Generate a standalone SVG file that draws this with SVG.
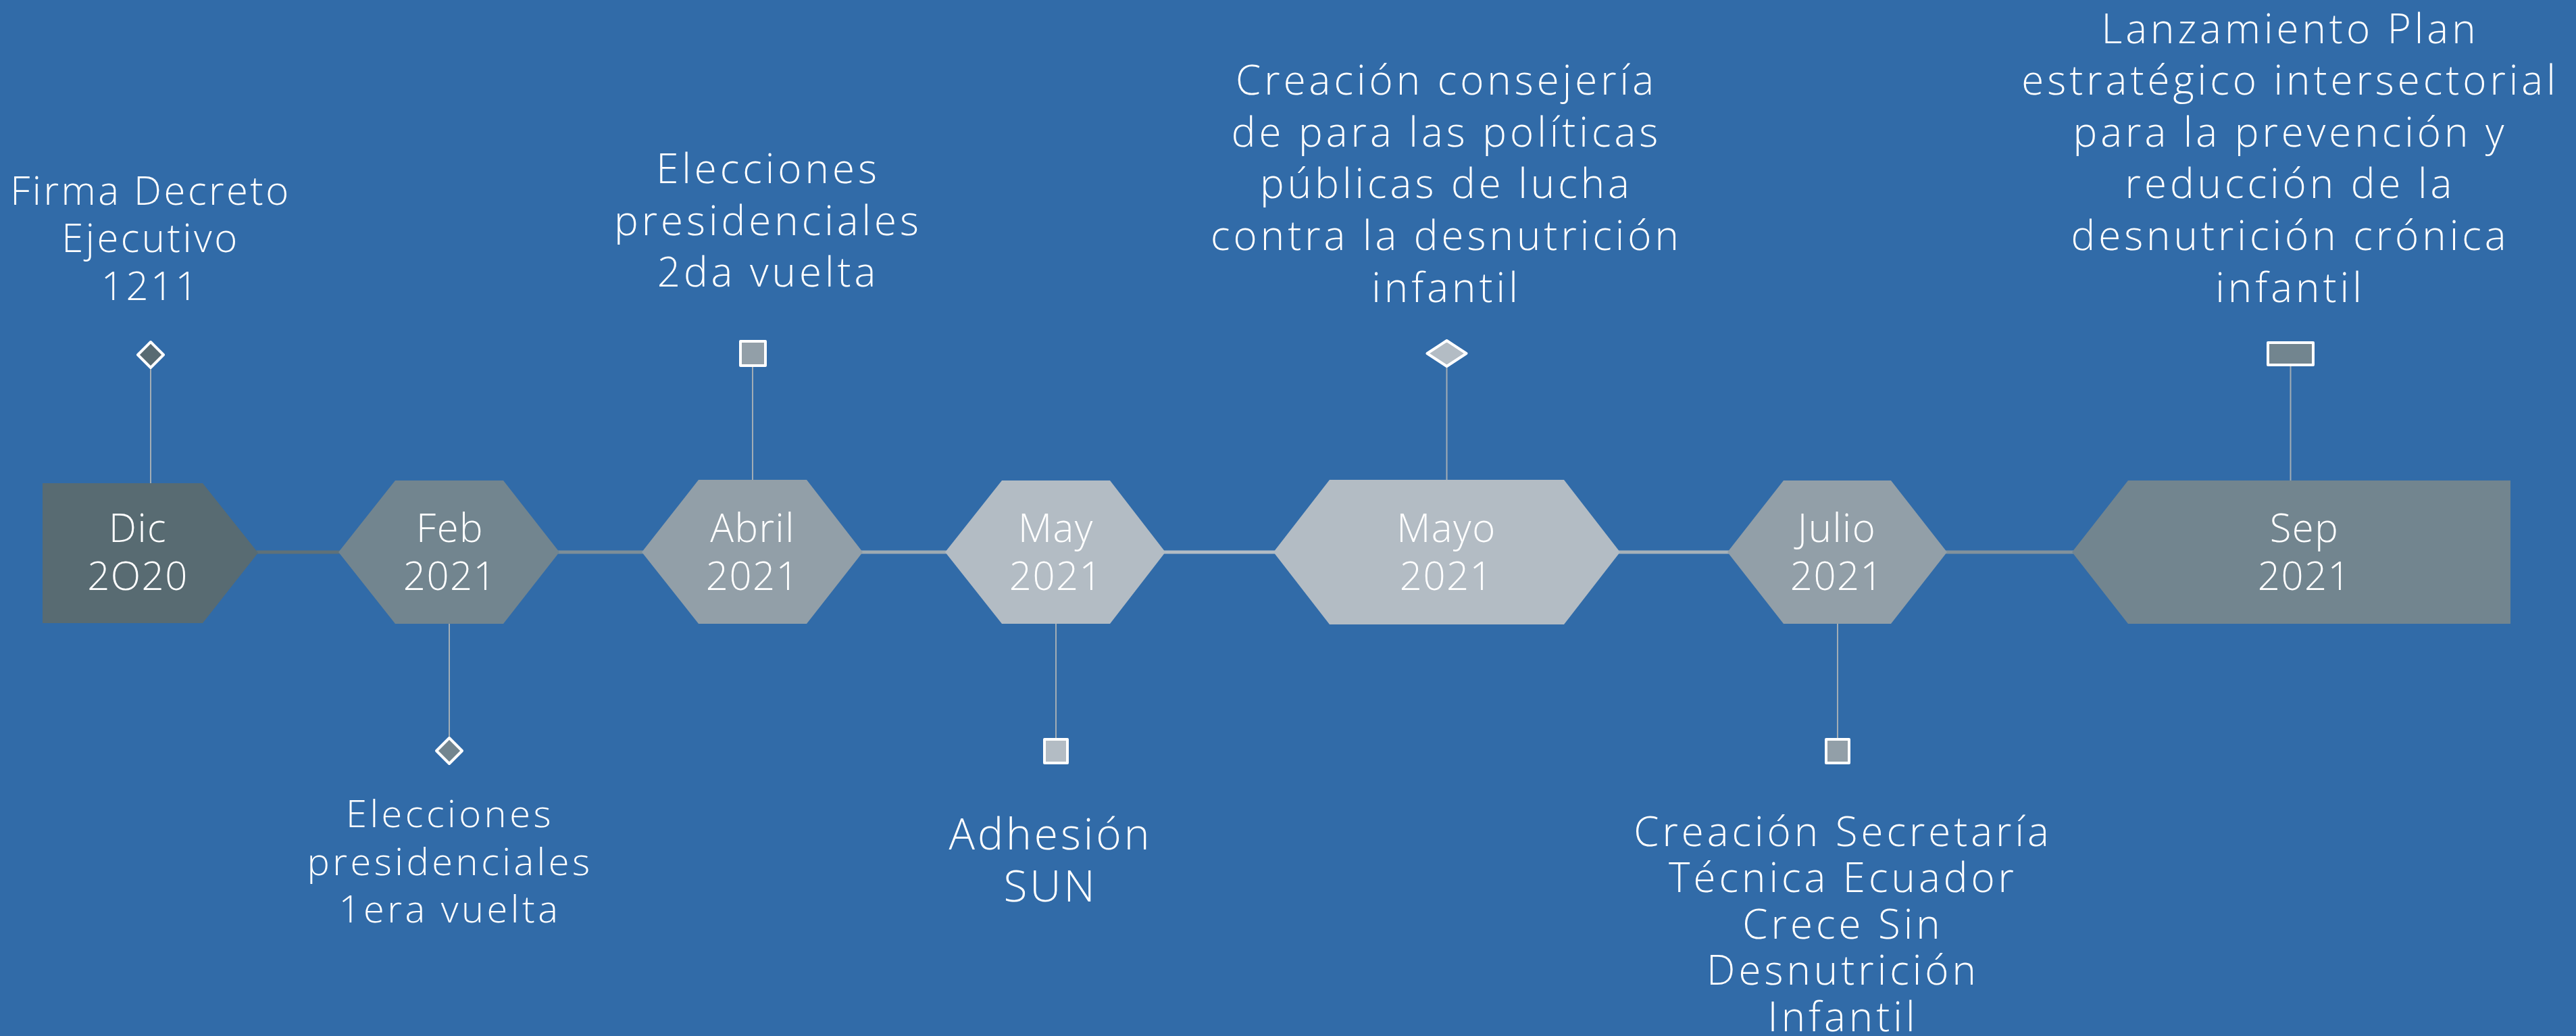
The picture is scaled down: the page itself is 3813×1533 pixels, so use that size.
<svg xmlns="http://www.w3.org/2000/svg" width="3813" height="1533" viewBox="0 0 3813 1533">
<style>
.bg{fill:#316ba8}
.lbl{font-family:"Open Sans","Liberation Sans",sans-serif;font-weight:300;fill:#ffffff;text-anchor:middle}
.node{font-size:58px;letter-spacing:1.5px}
.ev{font-size:60px;letter-spacing:5px}
.c1{fill:#586b72}.c2{fill:#72858f}.c3{fill:#929fa8}.c4{fill:#b3bcc4}
.mk{stroke:#ffffff;stroke-width:4;stroke-linejoin:round}
.stem{stroke:#a2adb5;stroke-width:2;fill:none}
.link{stroke-width:5;fill:none}
</style>
<rect class="bg" x="0" y="0" width="3813" height="1533"/>
<g id="connectors">
<line class="link" x1="380" y1="817" x2="503" y2="817" stroke="#5f7178"/>
<line class="link" x1="826" y1="817" x2="952" y2="817" stroke="#7d8e98"/>
<line class="link" x1="1275" y1="817" x2="1401" y2="817" stroke="#9eaab2"/>
<line class="link" x1="1723" y1="817" x2="1887" y2="817" stroke="#b3bcc4"/>
<line class="link" x1="2396" y1="817" x2="2559" y2="817" stroke="#a6b1b9"/>
<line class="link" x1="2880" y1="817" x2="3069" y2="817" stroke="#82929c"/>
<line class="stem" x1="223" y1="543" x2="223" y2="715"/>
<line class="stem" x1="665" y1="923" x2="665" y2="1092"/>
<line class="stem" x1="1114" y1="542" x2="1114" y2="710"/>
<line class="stem" x1="1563" y1="923" x2="1563" y2="1092"/>
<line class="stem" x1="2141.5" y1="542" x2="2141.5" y2="710"/>
<line class="stem" x1="2720" y1="923" x2="2720" y2="1092"/>
<line class="stem" x1="3390.5" y1="542" x2="3390.5" y2="711"/>
</g>
<g id="n-dic">
<polygon class="c1" points="63,715 300,715 382,818 300,922 63,922"/>
<text class="lbl node" x="204" y="802">Dic</text>
<text class="lbl node" x="204" y="873">2O20</text>
<polygon class="c1 mk" points="223,506 242,525 223,544 204,525"/>
<text class="lbl ev" style="font-size:58px;letter-spacing:3.5px"><tspan x="223" y="303">Firma Decreto</tspan><tspan x="223" y="373">Ejecutivo</tspan><tspan x="223" y="444">1211</tspan></text>
</g>
<g id="n-feb">
<polygon class="c2" points="501,817 585,711 745,711 828,817 745,923 585,923"/>
<text class="lbl node" x="666" y="802">Feb</text>
<text class="lbl node" x="666" y="873">2021</text>
<polygon class="c2 mk" points="665,1092 684,1111 665,1130 646,1111"/>
<text class="lbl ev" style="font-size:56px;letter-spacing:4.5px"><tspan x="666" y="1224">Elecciones</tspan><tspan x="666" y="1295">presidenciales</tspan><tspan x="666" y="1365">1era vuelta</tspan></text>
</g>
<g id="n-abril">
<polygon class="c3" points="950,817 1034,710 1194,710 1277,817 1194,923 1034,923"/>
<text class="lbl node" x="1114" y="802">Abril</text>
<text class="lbl node" x="1114" y="873">2021</text>
<rect class="c3 mk" x="1096" y="505" width="37" height="36"/>
<text class="lbl ev"><tspan x="1137" y="271">Elecciones</tspan><tspan x="1137" y="348">presidenciales</tspan><tspan x="1137" y="424">2da vuelta</tspan></text>
</g>
<g id="n-may">
<polygon class="c4" points="1399,817 1483,711 1643,711 1725,817 1643,923 1483,923"/>
<text class="lbl node" x="1563" y="802">May</text>
<text class="lbl node" x="1563" y="873">2021</text>
<rect class="c4 mk" x="1546" y="1094" width="34" height="35"/>
<text class="lbl ev" style="font-size:64px;letter-spacing:4px"><tspan x="1555" y="1257">Adhesión</tspan><tspan x="1555" y="1334">SUN</tspan></text>
</g>
<g id="n-mayo">
<polygon class="c4" points="1885,817 1968,710 2315,710 2398,817 2315,924 1968,924"/>
<text class="lbl node" x="2141" y="802">Mayo</text>
<text class="lbl node" x="2141" y="873">2021</text>
<polygon class="c4 mk" points="2141.5,504 2170.5,523 2141.5,542 2112.5,523"/>
<text class="lbl ev"><tspan x="2141" y="140">Creación consejería</tspan><tspan x="2141" y="217">de para las políticas</tspan><tspan x="2141" y="293">públicas de lucha</tspan><tspan x="2141" y="370">contra la desnutrición</tspan><tspan x="2141" y="447">infantil</tspan></text>
</g>
<g id="n-julio">
<polygon class="c3" points="2557,817 2640,711 2799,711 2882,817 2799,923 2640,923"/>
<text class="lbl node" x="2719" y="802">Julio</text>
<text class="lbl node" x="2719" y="873">2021</text>
<rect class="c3 mk" x="2703" y="1094" width="34" height="35"/>
<text class="lbl ev"><tspan x="2728" y="1252">Creación Secretaría</tspan><tspan x="2728" y="1320">Técnica Ecuador</tspan><tspan x="2728" y="1389">Crece Sin</tspan><tspan x="2728" y="1457">Desnutrición</tspan><tspan x="2728" y="1526">Infantil</tspan></text>
</g>
<g id="n-sep">
<polygon class="c2" points="3067,817 3150,711 3716,711 3716,923 3150,923"/>
<text class="lbl node" x="3411" y="802">Sep</text>
<text class="lbl node" x="3411" y="873">2021</text>
<rect class="c2 mk" x="3357" y="507" width="67" height="33"/>
<text class="lbl ev"><tspan x="3390" y="64">Lanzamiento Plan</tspan><tspan x="3390" y="140">estratégico intersectorial</tspan><tspan x="3390" y="217">para la prevención y</tspan><tspan x="3390" y="293">reducción de la</tspan><tspan x="3390" y="370">desnutrición crónica</tspan><tspan x="3390" y="447">infantil</tspan></text>
</g>
</svg>
